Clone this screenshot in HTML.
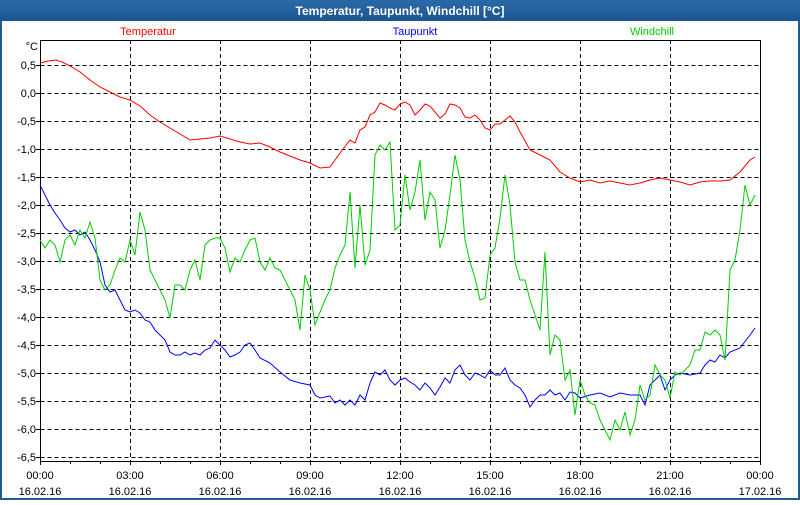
<!DOCTYPE html><html><head><style>body{margin:0;width:800px;height:500px;overflow:hidden;background:#fff}</style></head><body>
<svg width="800" height="500" xmlns="http://www.w3.org/2000/svg" font-family="Liberation Sans, sans-serif" font-size="11">
<defs><linearGradient id="g" x1="0" y1="0" x2="0" y2="1"><stop offset="0" stop-color="#2a6aa8"/><stop offset="1" stop-color="#1c5590"/></linearGradient></defs>
<rect x="0" y="0" width="800" height="500" fill="#1f5c96"/>
<rect x="0" y="0" width="800" height="21" fill="url(#g)"/>
<text x="400" y="15" text-anchor="middle" fill="#fff" font-weight="bold" font-size="12">Temperatur, Taupunkt, Windchill [°C]</text>
<rect x="2" y="21" width="796" height="477" fill="#fff"/>
<text x="148" y="35" text-anchor="middle" fill="#ff0000">Temperatur</text>
<text x="415" y="35" text-anchor="middle" fill="#0000ff">Taupunkt</text>
<text x="652" y="35" text-anchor="middle" fill="#00cc00">Windchill</text>
<text x="38" y="50" text-anchor="end">°C</text>
<g stroke="#000" stroke-dasharray="4,3" stroke-width="1">
<path d="M40.5 65.5H760M40.5 93.5H760M40.5 121.5H760M40.5 149.5H760M40.5 177.5H760M40.5 205.5H760M40.5 233.5H760M40.5 261.5H760M40.5 289.5H760M40.5 317.5H760M40.5 345.5H760M40.5 373.5H760M40.5 401.5H760M40.5 429.5H760M40.5 457.5H760"/>
<path d="M130.5 40V461M220.5 40V461M310.5 40V461M400.5 40V461M490.5 40V461M580.5 40V461M670.5 40V461"/>
</g>
<rect x="40.5" y="40.5" width="720" height="421" fill="none" stroke="#000"/>
<g stroke="#000"><path d="M40.5 461v4M70.5 461v3M100.5 461v3M130.5 461v4M160.5 461v3M190.5 461v3M220.5 461v4M250.5 461v3M280.5 461v3M310.5 461v4M340.5 461v3M370.5 461v3M400.5 461v4M430.5 461v3M460.5 461v3M490.5 461v4M520.5 461v3M550.5 461v3M580.5 461v4M610.5 461v3M640.5 461v3M670.5 461v4M700.5 461v3M730.5 461v3M760.5 461v4"/><path d="M36 65.5h4M36 93.5h4M36 121.5h4M36 149.5h4M36 177.5h4M36 205.5h4M36 233.5h4M36 261.5h4M36 289.5h4M36 317.5h4M36 345.5h4M36 373.5h4M36 401.5h4M36 429.5h4M36 457.5h4"/></g>
<g text-anchor="end">
<text x="36" y="69">0,5</text><text x="36" y="97">0,0</text><text x="36" y="125">-0,5</text><text x="36" y="153">-1,0</text><text x="36" y="181">-1,5</text><text x="36" y="209">-2,0</text><text x="36" y="237">-2,5</text><text x="36" y="265">-3,0</text><text x="36" y="293">-3,5</text><text x="36" y="321">-4,0</text><text x="36" y="349">-4,5</text><text x="36" y="377">-5,0</text><text x="36" y="405">-5,5</text><text x="36" y="433">-6,0</text><text x="36" y="461">-6,5</text>
</g>
<g text-anchor="middle">
<text x="40" y="479">00:00</text><text x="40" y="495">16.02.16</text>
<text x="130" y="479">03:00</text><text x="130" y="495">16.02.16</text>
<text x="220" y="479">06:00</text><text x="220" y="495">16.02.16</text>
<text x="310" y="479">09:00</text><text x="310" y="495">16.02.16</text>
<text x="400" y="479">12:00</text><text x="400" y="495">16.02.16</text>
<text x="490" y="479">15:00</text><text x="490" y="495">16.02.16</text>
<text x="580" y="479">18:00</text><text x="580" y="495">16.02.16</text>
<text x="670" y="479">21:00</text><text x="670" y="495">16.02.16</text>
<text x="760" y="479">00:00</text><text x="760" y="495">17.02.16</text>
</g>
<polyline fill="none" stroke="#ff0000" points="40,63 48,61 56,60 62,62 70,66 80,72 90,80 100,87 110,92 120,97 130,100 140,106 150,115 160,122 170,128 180,134 190,140 200,139 210,138 220,136 230,139 240,142 250,144 260,143 270,147 280,152 290,156 300,160 310,163 320,168 330,167 340,153 350,140 355,143 360,130 365,127 370,115 375,112 380,103 385,105 390,108 395,110 400,104 405,102 410,105 415,115 420,110 425,104 430,106 435,112 440,118 445,114 450,104 455,105 460,108 465,117 470,118 475,115 480,120 485,128 490,130 495,124 500,124 505,120 510,116 515,122 520,132 530,150 540,155 550,160 560,172 570,178 580,182 590,180 600,183 610,181 620,183 630,185 640,183 650,180 660,178 670,180 680,182 690,185 700,182 710,181 720,181 730,180 740,172 750,160 755,157"/>
<polyline fill="none" stroke="#0000ff" points="40,185 45,195 50,205 55,213 60,220 65,228 70,232 75,230 80,235 85,232 90,240 95,250 100,262 105,285 110,292 115,290 120,300 125,310 130,312 135,310 140,313 145,320 150,322 155,330 160,335 165,340 170,352 175,355 180,355 185,352 190,355 195,353 200,355 205,350 210,348 215,340 220,345 225,350 230,357 235,355 240,352 245,345 250,343 255,350 260,358 270,363 280,372 290,380 300,383 310,385 315,395 320,398 330,396 335,403 340,400 345,405 350,400 355,405 360,395 365,400 370,383 375,372 380,375 385,370 390,380 395,385 400,380 405,378 410,382 415,385 420,390 425,383 430,388 435,395 440,387 445,378 450,383 455,370 460,365 465,375 470,380 475,373 480,375 485,378 490,370 495,375 500,375 505,368 510,380 515,385 520,388 525,395 530,407 535,400 540,395 545,395 550,390 555,395 560,393 565,400 570,392 575,393 580,398 590,395 600,393 610,397 620,393 630,395 640,395 645,405 650,385 655,380 660,375 665,390 670,380 675,375 680,373 690,375 700,373 705,365 710,360 715,362 720,355 725,358 730,352 740,348 750,335 755,328"/>
<polyline fill="none" stroke="#00cc00" points="40,240 45,248 50,240 55,245 60,262 65,240 70,235 75,245 80,230 85,238 90,222 95,238 100,280 105,290 110,285 115,270 120,258 125,262 130,240 135,255 140,212 145,230 150,270 155,280 160,290 165,300 170,318 175,285 180,285 185,290 190,270 195,260 200,280 205,245 210,240 215,238 220,238 225,248 230,272 235,258 240,262 245,250 250,240 255,238 260,262 265,270 270,258 275,268 280,270 285,280 290,290 295,300 300,330 305,275 310,290 315,325 320,312 325,300 330,290 335,268 340,255 345,245 350,192 355,268 360,205 365,265 370,250 375,155 380,145 385,150 390,142 395,230 400,225 405,175 410,210 415,192 420,160 425,220 430,192 435,200 440,248 445,230 450,195 455,155 460,180 465,240 470,262 475,278 480,300 485,298 490,255 495,248 500,218 505,175 510,205 515,262 520,280 525,280 530,300 535,315 540,330 545,252 550,355 555,335 560,340 565,380 570,370 575,415 580,380 585,395 590,403 595,405 600,420 605,430 610,440 615,420 620,430 625,412 630,435 635,420 640,385 645,400 650,395 655,365 660,375 665,380 670,398 675,372 680,375 685,370 690,365 695,350 700,350 705,332 710,335 715,330 720,335 725,360 730,270 735,260 740,230 745,185 750,205 755,195"/>
</svg>
</body></html>
